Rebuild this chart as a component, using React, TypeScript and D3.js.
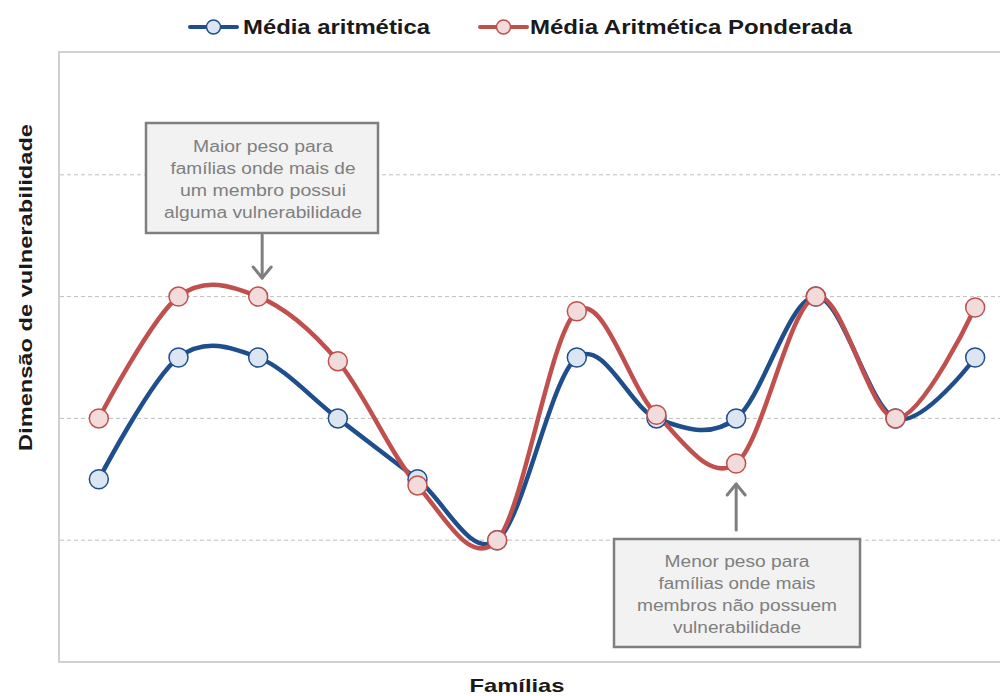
import * as d3 from "d3";

const families = ["1", "2", "3", "4", "5", "6", "7", "8", "9", "10", "11", "12"];
const simpleMean = [1.5, 2.5, 2.5, 2, 1.5, 1, 2.5, 2, 2, 3, 2, 2.5];
const weightedMean = [2, 3, 3, 2.47, 1.45, 1, 2.88, 2.03, 1.63, 3, 2, 2.91];
const yTicks = [1, 2, 3, 4];

const seriesNames = ["Média aritmética", "Média Aritmética Ponderada"];

const W = 1000;
const H = 696;
const plot = { left: 59, top: 53, right: 1015, bottom: 662 };

const BLUE = "#1f4e8c";
const BLUE_FILL = "#dce6f2";
const RED = "#c0504d";
const RED_FILL = "#f2dcdb";
const GRAY_TEXT = "#7f7f7f";

const font = "'Liberation Sans', Arial, sans-serif";
const narrow = "'Liberation Sans Narrow', 'Liberation Sans', Arial, sans-serif";

const noteHigh = ["Maior peso para", "famílias onde mais de", "um membro possui", "alguma vulnerabilidade"];
const noteLow = ["Menor peso para", "famílias onde mais", "membros não possuem", "vulnerabilidade"];

export default function App() {
  const x = d3.scaleBand().domain(families).range([plot.left, plot.right]);
  const y = d3.scaleLinear().domain([0, 5]).range([plot.bottom, plot.top]);
  const cx = (f: string) => (x(f) || 0) + x.bandwidth() / 2;

  // Excel-like smoothed line
  const line = d3
    .line<number>()
    .x((_, i) => cx(families[i]))
    .y((d) => y(d))
    .curve(d3.curveCardinal.tension(0));

  const series = [
    { name: seriesNames[0], values: simpleMean, stroke: BLUE, fill: BLUE_FILL },
    { name: seriesNames[1], values: weightedMean, stroke: RED, fill: RED_FILL },
  ];

  // annotation boxes
  const noteA = { x: 146, y: 123, w: 232, h: 110, cx: 263, base: 152, widths: [140, 185, 166, 198] };
  const noteB = { x: 614, y: 539, w: 246, h: 108, cx: 737, base: 567, widths: [145, 157, 200, 128] };
  const lineGap = 22;

  const legend = [
    { lx: 190, tx: 243, tl: 187 },
    { lx: 480, tx: 530, tl: 322 },
  ];

  const arrowA = { x: cx(families[2]) + 4, y1: 235, y2: 278 };
  const arrowB = { x: cx(families[8]), y1: 530, y2: 484 };

  return (
    <svg
      width={W}
      height={H}
      style={{ position: "absolute", left: 0, top: 0, background: "#fff" }}
      fontFamily={font}
    >
      {/* plot frame */}
      <rect
        x={plot.left}
        y={plot.top - 1}
        width={W - plot.left + 10}
        height={plot.bottom - plot.top + 1}
        fill="none"
        stroke="#d0d0d0"
        strokeWidth={2}
      />

      {/* gridlines */}
      {yTicks.map((t) => (
        <line
          key={t}
          x1={plot.left + 1}
          x2={W}
          y1={y(t)}
          y2={y(t)}
          stroke="#bfbfbf"
          strokeWidth={1}
          strokeDasharray="4,3"
        />
      ))}

      {/* lines */}
      {series.map((s) => (
        <path
          key={s.name}
          d={line(s.values) || ""}
          fill="none"
          stroke={s.stroke}
          strokeWidth={4.5}
          strokeLinejoin="round"
          strokeLinecap="round"
        />
      ))}

      {/* markers */}
      {series.map((s) =>
        s.values.map((v, i) => (
          <circle
            key={s.name + i}
            cx={cx(families[i])}
            cy={y(v)}
            r={9.5}
            fill={s.fill}
            stroke={s.stroke}
            strokeWidth={1.5}
          />
        ))
      )}

      {/* annotations */}
      {[
        { n: noteA, lines: noteHigh },
        { n: noteB, lines: noteLow },
      ].map(({ n, lines }, k) => (
        <g key={k}>
          <rect x={n.x} y={n.y} width={n.w} height={n.h} fill="#f2f2f2" stroke="#7f7f7f" strokeWidth={2.5} />
          {lines.map((t, i) => (
            <text
              key={i}
              x={n.cx}
              y={n.base + i * lineGap}
              textAnchor="middle"
              fontSize={16}
              fill={GRAY_TEXT}
              textLength={n.widths[i]}
              lengthAdjust="spacingAndGlyphs"
            >
              {t}
            </text>
          ))}
        </g>
      ))}

      {/* arrows */}
      <g stroke="#7f7f7f" strokeWidth={3} fill="none" strokeLinecap="round" strokeLinejoin="round">
        <line x1={arrowA.x} x2={arrowA.x} y1={arrowA.y1} y2={arrowA.y2} />
        <polyline points={`${arrowA.x - 9},${arrowA.y2 - 11} ${arrowA.x},${arrowA.y2} ${arrowA.x + 9},${arrowA.y2 - 11}`} />
        <line x1={arrowB.x} x2={arrowB.x} y1={arrowB.y1} y2={arrowB.y2} />
        <polyline points={`${arrowB.x - 9},${arrowB.y2 + 11} ${arrowB.x},${arrowB.y2} ${arrowB.x + 9},${arrowB.y2 + 11}`} />
      </g>

      {/* legend */}
      {series.map((s, i) => (
        <g key={s.name}>
          <line x1={legend[i].lx} x2={legend[i].lx + 47} y1={27} y2={27} stroke={s.stroke} strokeWidth={4} strokeLinecap="round" />
          <circle cx={legend[i].lx + 23.5} cy={27} r={7} fill={s.fill} stroke={s.stroke} strokeWidth={1.5} />
          <text
            x={legend[i].tx}
            y={34}
            fontFamily={narrow}
            fontWeight="bold"
            fontSize={20}
            fill="#1a1a1a"
            textLength={legend[i].tl}
            lengthAdjust="spacingAndGlyphs"
          >
            {s.name}
          </text>
        </g>
      ))}

      {/* axis titles */}
      <text
        transform={`translate(32,${(plot.top + plot.bottom) / 2 - 70}) rotate(-90)`}
        textAnchor="middle"
        fontWeight="bold"
        fontSize={19}
        fill="#1a1a1a"
        textLength={327}
        lengthAdjust="spacingAndGlyphs"
      >
        Dimensão de vulnerabilidade
      </text>
      <text
        x={517}
        y={692}
        textAnchor="middle"
        fontWeight="bold"
        fontSize={19}
        fill="#1a1a1a"
        textLength={95}
        lengthAdjust="spacingAndGlyphs"
      >
        Famílias
      </text>
    </svg>
  );
}
